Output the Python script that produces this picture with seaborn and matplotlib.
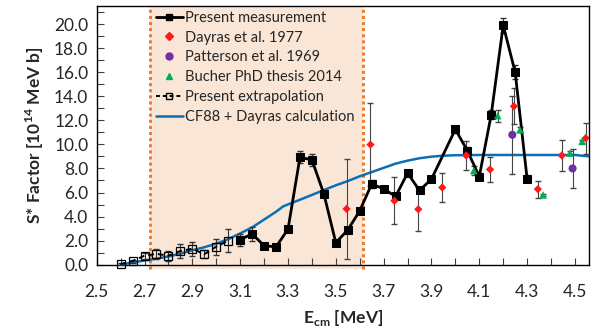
import numpy as np
import pandas as pd
import matplotlib
matplotlib.use("Agg")
import matplotlib.pyplot as plt
import seaborn as sns
from matplotlib.lines import Line2D

# Present extrapolation (open squares)
ext_e = [2.60, 2.65, 2.70, 2.75, 2.80, 2.85, 2.90, 2.95, 3.00, 3.05]
ext_s = [0.05, 0.30, 0.75, 0.90, 0.75, 1.14, 1.33, 0.87, 1.50, 2.00]
ext_err = [0.10, 0.12, 0.26, 0.42, 0.42, 0.56, 0.58, 0.35, 0.67, 0.97]

# Present measurement (filled squares)
meas_e = [3.10, 3.15, 3.20, 3.25, 3.30, 3.35, 3.40, 3.45, 3.50, 3.55, 3.60,
          3.65, 3.70, 3.75, 3.80, 3.85, 3.90, 4.00, 4.05, 4.10, 4.15, 4.20,
          4.25, 4.30]
meas_s = [2.08, 2.56, 1.58, 1.48, 2.95, 8.92, 8.72, 5.89, 1.83, 2.89, 4.48,
          6.70, 6.31, 5.67, 7.62, 6.17, 7.12, 11.25, 9.48, 7.33, 12.48, 19.90,
          16.00, 7.14]
meas_err = [0.50, 0.60, 0.20, 0.20, 0.20, 0.50, 0.50, 0.30, 0.20, 0.15, 0.15,
            0.30, 0.20, 0.20, 0.20, 0.20, 0.20, 0.30, 0.30, 0.30, 0.40, 0.60,
            0.60, 0.30]

# Dayras et al. 1977
day_e = [3.545, 3.645, 3.745, 3.845, 3.945, 4.045, 4.145, 4.245, 4.345, 4.445, 4.545]
day_s = [4.64, 9.98, 5.31, 4.61, 6.42, 9.08, 7.92, 13.17, 6.28, 9.08, 10.52]
day_err = [4.15, 3.45, 1.94, 1.82, 1.18, 1.17, 1.03, 1.50, 0.70, 1.32, 1.30]

# Patterson et al. 1969
pat_e = [4.238, 4.490]
pat_s = [10.80, 8.00]
pat_err = [3.25, 1.60]

# Bucher PhD thesis 2014
buc_e = [4.077, 4.177, 4.270, 4.367, 4.479, 4.530]
buc_s = [7.83, 12.39, 11.22, 5.80, 9.28, 10.25]
buc_err = [0.40, 0.50, 0.20, 0.10, 0.20, 0.10]

# CF88 + Dayras calculation
cf_e = [2.60, 2.65, 2.70, 2.75, 2.80, 2.85, 2.90, 2.95, 3.00, 3.05, 3.10,
        3.15, 3.20, 3.25, 3.28, 3.35, 3.40, 3.45, 3.50, 3.55, 3.60, 3.65,
        3.70, 3.75, 3.80, 3.85, 3.90, 3.95, 4.00, 4.10, 4.20, 4.30, 4.40,
        4.50, 4.56]
cf_s = [0.00, 0.18, 0.35, 0.50, 0.68, 0.92, 1.20, 1.45, 1.75, 2.12, 2.60,
        3.10, 3.75, 4.40, 4.85, 5.40, 5.80, 6.20, 6.60, 6.95, 7.35, 7.70,
        8.05, 8.40, 8.65, 8.85, 8.98, 9.06, 9.10, 9.12, 9.12, 9.12, 9.12,
        9.12, 9.00]

region = [2.725, 3.614]

sns.set_style("ticks")
plt.rcParams['font.family'] = ['Lato', 'DejaVu Sans']

fig = plt.figure(figsize=(5.99, 3.36), dpi=100)
ax = fig.add_axes([0.1614, 0.2122, 0.8224, 0.7698])

# shaded region with dotted borders
ax.axvspan(region[0], region[1], ymin=-0.015, ymax=1, color='#f9e6d6',
           zorder=0, clip_on=False, lw=0)
for xv in region:
    ax.axvline(xv, ymin=-0.015, ymax=1, color='#ed7d31', ls=(0, (1, 1)),
               lw=2.2, zorder=1, clip_on=False)

# calculation curve
cf = pd.DataFrame({'E': cf_e, 'S': cf_s})
sns.lineplot(data=cf, x='E', y='S', ax=ax, color='#0c6fb6', lw=1.8,
             sort=False, zorder=3)

# extrapolation
ext = pd.DataFrame({'E': ext_e, 'S': ext_s})
ax.errorbar(ext_e, ext_s, yerr=ext_err, fmt='none', ecolor='#333333',
            elinewidth=0.8, capsize=2, zorder=4)
sns.lineplot(data=ext, x='E', y='S', ax=ax, color='black', lw=1.4,
             ls=(0, (3, 2)), marker='s', markersize=5.5, markerfacecolor='none',
             markeredgecolor='black', markeredgewidth=0.9, zorder=5, clip_on=False)

# measurement
meas = pd.DataFrame({'E': meas_e, 'S': meas_s})
ax.errorbar(meas_e, meas_s, yerr=meas_err, fmt='none', ecolor='#333333',
            elinewidth=0.8, capsize=2, zorder=4)
sns.lineplot(data=meas, x='E', y='S', ax=ax, color='black', lw=2.0,
             marker='s', markersize=5.5, markeredgecolor='black', zorder=6)

# literature points
ax.errorbar(day_e, day_s, yerr=day_err, fmt='none', ecolor='#444444',
            elinewidth=0.8, capsize=2, zorder=4)
ax.errorbar(pat_e, pat_s, yerr=pat_err, fmt='none', ecolor='#444444',
            elinewidth=0.8, capsize=2, zorder=4)
ax.errorbar(buc_e, buc_s, yerr=buc_err, fmt='none', ecolor='#444444',
            elinewidth=0.8, capsize=2, zorder=4)
sns.scatterplot(x=day_e, y=day_s, ax=ax, marker='D', s=18, color='#ff1a1a',
                edgecolor='none', zorder=7)
sns.scatterplot(x=pat_e, y=pat_s, ax=ax, marker='o', s=34, color='#7030a0',
                edgecolor='none', zorder=7)
sns.scatterplot(x=buc_e, y=buc_s, ax=ax, marker='^', s=30, color='#00b050',
                edgecolor='none', zorder=7)

ax.set_xlim(2.5, 4.56)
ax.set_ylim(0, 21.5)

xt = np.round(np.arange(2.5, 4.56, 0.1), 2)
ax.set_xticks(xt)
ax.set_xticklabels([f"{v:.1f}" if i % 2 == 0 else "" for i, v in enumerate(xt)])
yt = np.arange(0, 22, 1.0)
ax.set_yticks(yt)
ax.set_yticklabels([f"{v:.1f}" if i % 2 == 0 else "" for i, v in enumerate(yt)])
ax.tick_params(direction='in', length=5, width=0.8, color='#404040',
               labelsize=12.5, pad=6)
ax.tick_params(axis='x', pad=14)
for sp in ax.spines.values():
    sp.set_visible(True)
    sp.set_color('black')
    sp.set_linewidth(1.0)

ax.set_xlabel(r'E$_{\mathregular{cm}}$ [MeV]', fontsize=12.5, fontweight='bold',
              labelpad=6)
ax.set_ylabel(r'S* Factor [10$^{\mathregular{14}}$ MeV b]', fontsize=12.5,
              fontweight='bold', labelpad=6)

handles = [
    Line2D([], [], color='black', lw=2.0, marker='s', markersize=5),
    Line2D([], [], color='#ff1a1a', ls='none', marker='D', markersize=4),
    Line2D([], [], color='#7030a0', ls='none', marker='o', markersize=5),
    Line2D([], [], color='#00b050', ls='none', marker='^', markersize=5),
    Line2D([], [], color='black', lw=1.4, ls=(0, (2, 1.5)), marker='s',
           markersize=5, markerfacecolor='none'),
    Line2D([], [], color='#0c6fb6', lw=1.8),
]
labels = ['Present measurement', 'Dayras et al. 1977', 'Patterson et al. 1969',
          'Bucher PhD thesis 2014', 'Present extrapolation',
          'CF88 + Dayras calculation']
ax.legend(handles, labels, loc='upper left', bbox_to_anchor=(0.121, 0.982),
          frameon=False, fontsize=10.5, handlelength=1.8, handletextpad=0.15,
          labelspacing=0.4, borderpad=0, borderaxespad=0)

fig.savefig('out.png', dpi=100)
